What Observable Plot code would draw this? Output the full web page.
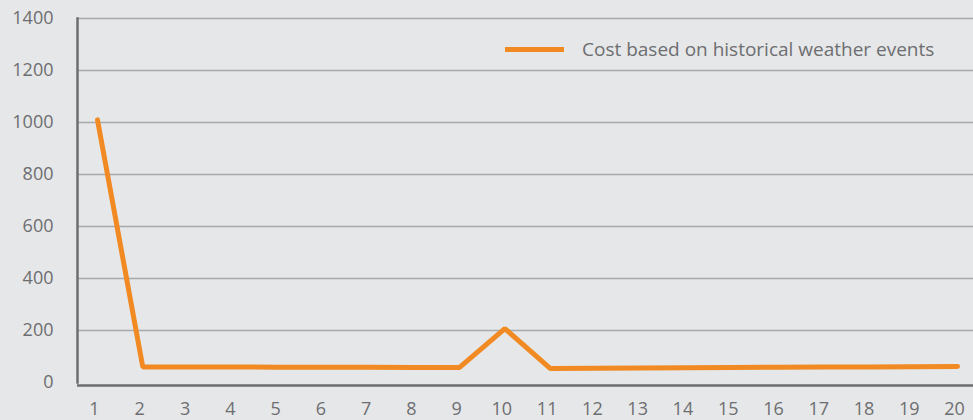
<!DOCTYPE html>
<html>
<head>
<meta charset="utf-8">
<script src="https://cdn.jsdelivr.net/npm/d3@7"></script>
<script src="https://cdn.jsdelivr.net/npm/@observablehq/plot@0.6"></script>
<style>
  html, body { margin: 0; padding: 0; background: #e6e7e8; }
  #wrap { position: relative; width: 973px; height: 420px; font-family: "Open Sans", sans-serif; }
  #legend { position: absolute; left: 505px; top: 36px; display: flex; align-items: center; font-size: 19px; color: #6d6e71; white-space: nowrap; }
  #legend .sw { display: inline-block; width: 59px; height: 5px; background: #f18a22; margin-right: 18px; }
</style>
</head>
<body>
<div id="wrap">
  <div id="chart"></div>
  <div id="legend"><span class="sw"></span><span id="legendLabel"></span></div>
</div>
<script>
const seriesName = "Cost based on historical weather events";
const years = [1,2,3,4,5,6,7,8,9,10,11,12,13,14,15,16,17,18,19,20];
const costs = [1010, 60, 60, 60, 59, 59, 59, 58, 58, 207, 54, 55, 56, 57, 58, 59, 60, 60, 61, 62];
const yTicks = [0, 200, 400, 600, 800, 1000, 1200, 1400];

const data = years.map((x, i) => ({x, y: costs[i]}));
document.getElementById("legendLabel").textContent = seriesName;

const chart = Plot.plot({
  width: 973,
  height: 420,
  marginLeft: 77,
  marginRight: 0,
  marginTop: 18,
  marginBottom: 38,
  style: { background: "transparent", fontFamily: "'Open Sans', sans-serif", color: "#6d6e71" },
  x: { domain: [1, 20], range: [97, 957] },
  y: { domain: [0, 1400] },
  marks: [
    Plot.ruleY(yTicks.filter(d => d > 0), { stroke: "#a7a9ac", strokeWidth: 1.5 }),
    Plot.frame({ anchor: "left", stroke: "#6d6e71", strokeWidth: 2.5 }),
    Plot.ruleY([0], { stroke: "#6d6e71", strokeWidth: 2.5, dy: 3 }),
    Plot.axisY({ ticks: yTicks, tickFormat: d => String(d), tickSize: 0, tickPadding: 24, label: null, fill: "#6d6e71", fontSize: 18 }),
    Plot.axisX({ ticks: years, tickFormat: d => String(d), tickSize: 0, tickPadding: 20, label: null, fill: "#6d6e71", fontSize: 18, dx: -3 }),
    Plot.line(data, { x: "x", y: "y", stroke: "#f18a22", strokeWidth: 5, strokeLinejoin: "miter" })
  ]
});
document.getElementById("chart").appendChild(chart);
</script>
</body>
</html>
